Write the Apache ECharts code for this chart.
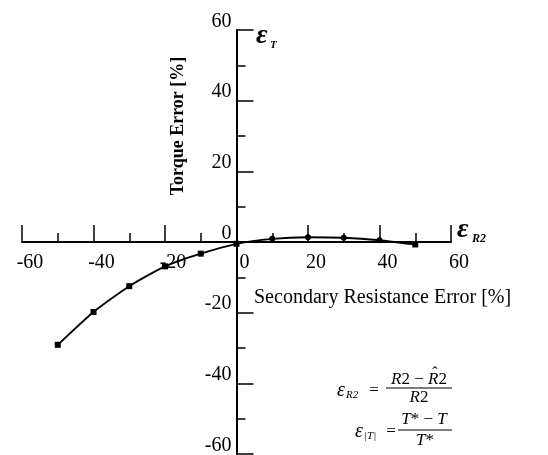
<!DOCTYPE html>
<html>
<head>
<meta charset="utf-8">
<script src="https://cdn.jsdelivr.net/npm/echarts@6/dist/echarts.min.js"></script>
<style>
  html, body { margin: 0; padding: 0; background: #fff; }
  #chart { width: 548px; height: 455px; }
</style>
</head>
<body>
<div id="chart"></div>
<script>
// Secondary resistance error (%) and resulting torque error (%)
const resistanceError = [-50, -40, -30, -20, -10, 0, 10, 20, 30, 40, 50];
const torqueError = [-29.1, -19.8, -12.5, -6.9, -3.3, -0.5, 0.9, 1.35, 1.2, 0.5, -0.7];

// Axis tick labels
const xTickLabels = [-60, -40, -20, 0, 20, 40, 60];
const yTickLabels = [-60, -40, -20, 0, 20, 40, 60];

const SERIF = '"Liberation Serif", "Times New Roman", serif';
const INK = '#000';

// Plot area in pixels; both axes cross at the origin in its centre
const GRID = { left: 22, right: 97, top: 30, bottom: 1 };
const W = 548, H = 455;
const plotW = W - GRID.left - GRID.right;
const plotH = H - GRID.top - GRID.bottom;

const chart = echarts.init(document.getElementById('chart'), null, { renderer: 'canvas' });

function txt(text, x, y, font, align, vAlign, rich) {
  const style = {
    text: text, font: font, fill: INK,
    textAlign: align || 'left', textVerticalAlign: vAlign || 'middle'
  };
  if (rich) style.rich = rich;
  return { type: 'text', x: x, y: y, silent: true, style: style };
}

function bar(x1, x2, y) {
  return { type: 'line', silent: true, shape: { x1: x1, y1: y, x2: x2, y2: y },
           style: { stroke: INK, lineWidth: 1.2 } };
}

const mathRich = {
  i: { fontFamily: SERIF, fontStyle: 'italic', fontSize: 17, fill: INK },
  n: { fontFamily: SERIF, fontSize: 17, fill: INK }
};

const axisCommon = {
  type: 'value',
  axisLine: { onZero: false, lineStyle: { color: INK, width: 2 } },
  axisTick: { show: true, inside: true, length: 17, lineStyle: { color: INK, width: 1.5 } },
  minorTick: { show: true, splitNumber: 2, length: 9, lineStyle: { color: INK, width: 1.5 } },
  splitLine: { show: false },
  minorSplitLine: { show: false }
};

const option = {
  animation: false,
  backgroundColor: '#fff',
  grid: Object.assign({ containLabel: false, outerBoundsMode: 'none' }, GRID),
  xAxis: Object.assign({}, axisCommon, {
    position: 'bottom',
    offset: -plotH / 2,
    min: xTickLabels[0], max: xTickLabels[xTickLabels.length - 1], interval: 20,
    axisLabel: { color: INK, fontFamily: SERIF, fontSize: 20, margin: 11,
                 padding: [0, 0, 0, 16], showMinLabel: true, showMaxLabel: true }
  }),
  yAxis: Object.assign({}, axisCommon, {
    position: 'left',
    offset: -plotW / 2,
    min: yTickLabels[0], max: yTickLabels[yTickLabels.length - 1], interval: 20,
    axisLabel: { color: INK, fontFamily: SERIF, fontSize: 20, margin: 5,
                 verticalAlign: 'bottom', lineHeight: 17,
                 showMinLabel: true, showMaxLabel: true }
  }),
  series: [{
    type: 'line',
    data: resistanceError.map((x, i) => [x, torqueError[i]]),
    smooth: 0.2,
    symbol: v => (v[0] > 0 && v[0] < 45 ? 'circle' : 'rect'),
    symbolSize: 6,
    lineStyle: { color: INK, width: 1.8 },
    itemStyle: { color: INK }
  }],
  graphic: [
    // axis titles
    Object.assign(txt('Torque Error [%]', 178, 126, 'bold 18px ' + SERIF, 'center', 'middle'),
                  { rotation: Math.PI / 2 }),
    txt('Secondary Resistance Error [%]', 254, 298, '20px ' + SERIF, 'left', 'middle'),
    // axis symbols
    txt('ε', 256, 36, 'italic bold 28px ' + SERIF, 'left', 'middle'),
    txt('T', 270, 45, 'italic bold 11px ' + SERIF, 'left', 'middle'),
    txt('ε', 457, 230, 'italic bold 28px ' + SERIF, 'left', 'middle'),
    txt('R2', 472, 239, 'italic bold 12px ' + SERIF, 'left', 'middle'),
    // definition of the resistance error
    txt('ε', 337, 391, 'italic 20px ' + SERIF, 'left', 'middle'),
    txt('R2', 346, 395, 'italic 11px ' + SERIF, 'left', 'middle'),
    txt('=', 374, 391, '17px ' + SERIF, 'center', 'middle'),
    txt('{i|R}{n|2 − }{i|R}{n|2}', 419, 380, '17px ' + SERIF, 'center', 'middle', mathRich),
    txt('ˆ', 435, 374, '16px ' + SERIF, 'center', 'middle'),
    bar(386, 452, 388),
    txt('{i|R}{n|2}', 419, 398, '17px ' + SERIF, 'center', 'middle', mathRich),
    // definition of the torque error
    txt('ε', 355, 432, 'italic 20px ' + SERIF, 'left', 'middle'),
    txt('|T|', 364, 436, 'italic 11px ' + SERIF, 'left', 'middle'),
    txt('=', 391, 432, '17px ' + SERIF, 'center', 'middle'),
    txt('{i|T}{n|* − }{i|T}', 424, 420, '17px ' + SERIF, 'center', 'middle', mathRich),
    bar(398, 452, 430),
    txt('{i|T}{n|*}', 425, 441, '17px ' + SERIF, 'center', 'middle', mathRich)
  ]
};

chart.setOption(option);
</script>
</body>
</html>
